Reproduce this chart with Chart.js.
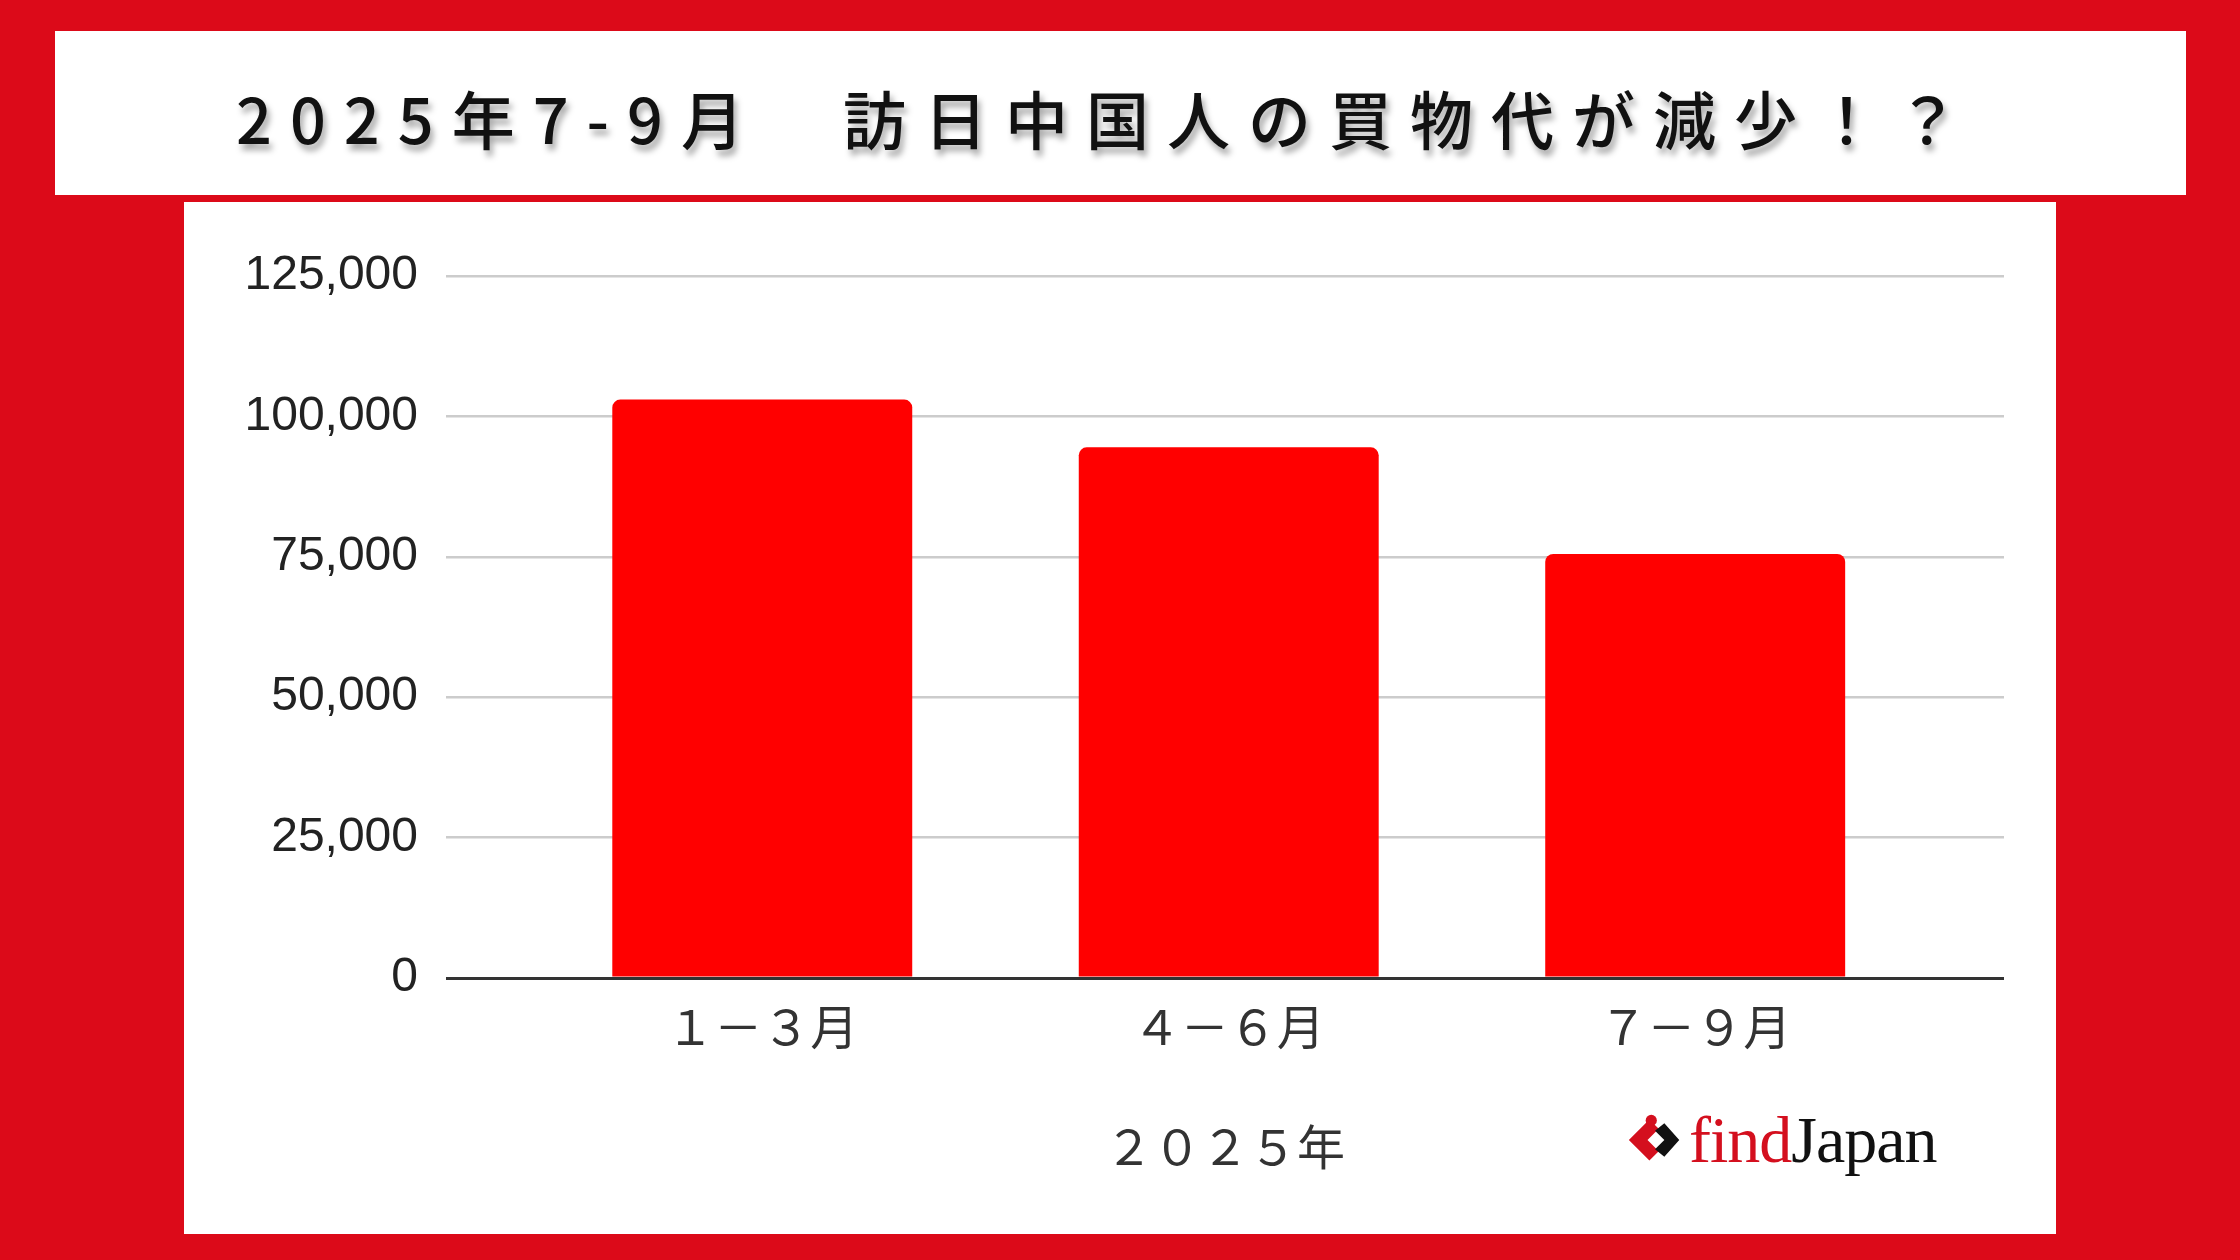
<!DOCTYPE html>
<html lang="ja">
<head>
<meta charset="utf-8">
<script src="https://cdn.jsdelivr.net/npm/chart.js@4.4.1/dist/chart.umd.min.js"></script>
<style>
  html, body { margin: 0; padding: 0; }
  body { width: 2240px; height: 1260px; background: #DC0A19; position: relative; overflow: hidden; }
  #titlebox { position: absolute; left: 55px; top: 31px; width: 2131px; height: 164px; background: #fff; }
  #title { position: absolute; left: 236px; top: 116px; transform: translateY(-50%);
    font-family: "Noto Sans CJK JP", sans-serif; font-weight: 500; font-size: 63px; letter-spacing: 18px;
    color: #111; white-space: nowrap; text-shadow: 3px 6px 6px rgba(0,0,0,0.35); }
  #chartbox { position: absolute; left: 184px; top: 202px; width: 1872px; height: 1032px; background: #fff; }
  #chartbox canvas { position: absolute; left: 0; top: 0; }
  #logo { position: absolute; left: 1627px; top: 1090px; height: 100px; white-space: nowrap; }
  #logo .icon { position: absolute; left: 0; top: 22px; width: 56px; height: 56px; }
  #logo .word { position: absolute; left: 62px; top: 0; font-family: "Liberation Serif", "DejaVu Serif", serif; font-size: 66px; line-height: 100px; letter-spacing: -1px; }
  #logo .find { color: #D40F1E; }
  #logo .japan { color: #111; }
</style>
</head>
<body>
<div id="titlebox"></div>
<div id="title">2025年7-9月　訪日中国人の買物代が減少！？</div>
<div id="chartbox"><canvas id="c" width="1872" height="1032"></canvas></div>
<div id="logo">
  <svg class="icon" viewBox="0 0 60 60">
    <polygon points="2,30 24,8 34,18 22,30 34,42 24,52" fill="#D40F1E"/>
    <circle cx="26" cy="9" r="6" fill="#D40F1E"/>
    <polygon points="30,20 40,12 56,30 40,48 30,40 40,30" fill="#111"/>
  </svg>
  <span class="word"><span class="find">find</span><span class="japan">Japan</span></span>
</div>
<script>
const categories = ["１－３月", "４－６月", "７－９月"];
const values = [103000, 94500, 75500];
const xTitle = "２０２５年";
const yMin = 0;
const yMax = 125000;
const yStep = 25000;

const ctx = document.getElementById('c').getContext('2d');
new Chart(ctx, {
  type: 'bar',
  data: {
    datasets: [{
      data: values.map((v, i) => ({ x: i, y: v })),
      backgroundColor: '#FF0000',
      borderWidth: 0,
      borderRadius: 8,
      borderSkipped: 'start',
      barPercentage: 0.643,
      categoryPercentage: 1.0
    }]
  },
  options: {
    responsive: false,
    animation: false,
    devicePixelRatio: 1,
    layout: { padding: { top: 74, right: 52, left: 0, bottom: 0 } },
    plugins: { legend: { display: false }, tooltip: { enabled: false } },
    scales: {
      x: {
        type: 'linear',
        offset: false,
        min: -0.678,
        max: 2.662,
        afterBuildTicks: (s) => { s.ticks = categories.map((_, i) => ({ value: i })); },
        afterFit: (s) => { s.height = 256; },
        grid: { display: false, drawTicks: false, offset: false },
        border: { display: false },
        ticks: {
          autoSkip: false,
          maxRotation: 0,
          padding: 20,
          color: '#333',
          font: { family: '"Noto Sans CJK JP", sans-serif', size: 48 },
          callback: (v) => categories[v] ?? ''
        },
        title: {
          display: true,
          text: xTitle,
          color: '#333',
          font: { family: '"Noto Sans CJK JP", sans-serif', size: 48 },
          padding: { top: 0, bottom: 58 }
        }
      },
      y: {
        min: yMin,
        max: yMax,
        afterFit: (s) => { s.width = 262; },
        border: { display: false },
        grid: {
          drawTicks: false,
          color: (c) => c.tick && c.tick.value === 0 ? '#333' : '#CCCCCC',
          lineWidth: (c) => c.tick && c.tick.value === 0 ? 3 : 2.5
        },
        ticks: {
          stepSize: yStep,
          padding: 28,
          color: '#222',
          font: { family: '"Liberation Sans", Arial, sans-serif', size: 48 },
          callback: (v) => v.toLocaleString('en-US')
        }
      }
    }
  }
});
</script>
</body>
</html>
